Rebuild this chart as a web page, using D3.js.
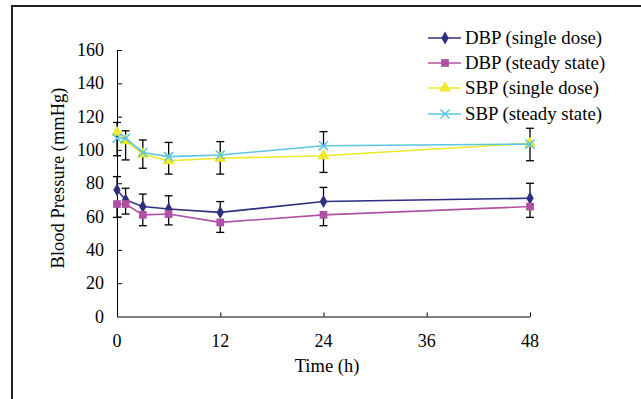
<!DOCTYPE html>
<html>
<head>
<meta charset="utf-8">
<script src="https://cdn.jsdelivr.net/npm/d3@7"></script>
<style>
  body { margin: 0; background: #fff; }
  svg { display: block; font-family: "Liberation Serif", "Times New Roman", serif; }
</style>
</head>
<body>
<svg width="641" height="399"></svg>
<script>
// data
var times = [0, 1, 3, 6, 12, 24, 48];
var dbpSingle = [76, 70, 66, 64.5, 62.5, 69, 71];
var dbpSteady = [67.5, 67.5, 61, 61.5, 56.5, 61, 66];
var sbpSingle = [110.5, 105.5, 97.5, 93.5, 95, 96.5, 104];
var sbpSteady = [107, 107, 98.5, 96, 97, 102.5, 103.5];
// error bars (only one side of each is visible)
var dbpSingleErr = [8, 7, 7.5, 8, 6.5, 8.5, 9];
var dbpSteadyErr = [8, 6, 6.5, 6.5, 6, 6.5, 6.5];
var sbpSingleErr = [14, 11.5, 8.5, 8, 9.5, 10, 10.5];
var sbpSteadyErr = [9.5, 4.5, 7.5, 8.5, 8, 8.5, 9.5];
var seriesNames = ["DBP (single dose)", "DBP (steady state)", "SBP (single dose)", "SBP (steady state)"];
var xTicks = [0, 12, 24, 36, 48];
var yTicks = [0, 20, 40, 60, 80, 100, 120, 140, 160];

var series = [
  {name: seriesNames[0], values: dbpSingle, err: dbpSingleErr, side: 1, color: "#2e2f7f", symbol: d3.symbolDiamond, size: 48},
  {name: seriesNames[1], values: dbpSteady, err: dbpSteadyErr, side: -1, color: "#b052a3", symbol: d3.symbolSquare, size: 60},
  {name: seriesNames[2], values: sbpSingle, err: sbpSingleErr, side: -1, color: "#eee82a", symbol: d3.symbolTriangle, size: 60},
  {name: seriesNames[3], values: sbpSteady, err: sbpSteadyErr, side: 1, color: "#5cc6e0", symbol: "x", size: 0}
];

var svg = d3.select("svg");

// outer frame (runs off the right and bottom)
svg.append("path")
  .attr("d", "M12,400 L12,6 L645,6")
  .attr("fill", "none")
  .attr("stroke", "#231f20")
  .attr("stroke-width", 2);

var x = d3.scaleLinear().domain([0, 48]).range([117, 530]);
var y = d3.scaleLinear().domain([0, 160]).range([316.5, 50]);

// y axis, ticks pointing inward
var yAxis = svg.append("g")
  .attr("transform", "translate(117,0)")
  .call(d3.axisRight(y).tickValues(yTicks).tickSize(5).tickSizeOuter(0).tickFormat(""));
yAxis.select(".domain").attr("stroke", "#000");
yAxis.selectAll("line").attr("stroke", "#000");

svg.selectAll(".ylab")
  .data(yTicks)
  .enter()
  .append("text")
  .attr("class", "ylab")
  .attr("x", 104)
  .attr("y", function(d) { return y(d) + 6; })
  .attr("text-anchor", "end")
  .attr("font-size", 18)
  .text(function(d) { return d; });

// x axis, grey line with small upward ticks
var xAxis = svg.append("g")
  .attr("transform", "translate(0," + y(0) + ")")
  .call(d3.axisTop(x).tickValues(xTicks).tickSize(4).tickSizeOuter(0).tickFormat(""));
xAxis.select(".domain").attr("stroke", "#808080").attr("stroke-width", 2);
xAxis.selectAll("line").attr("stroke", "#000");

svg.selectAll(".xlab")
  .data(xTicks)
  .enter()
  .append("text")
  .attr("class", "xlab")
  .attr("x", function(d) { return x(d); })
  .attr("y", 347)
  .attr("text-anchor", "middle")
  .attr("font-size", 18)
  .text(function(d) { return d; });

svg.append("text")
  .attr("x", 327)
  .attr("y", 372)
  .attr("text-anchor", "middle")
  .attr("font-size", 18.5)
  .text("Time (h)");

svg.append("text")
  .attr("transform", "translate(64,178) rotate(-90)")
  .attr("text-anchor", "middle")
  .attr("font-size", 18.5)
  .text("Blood Pressure (mmHg)");

// error bars
series.forEach(function(s) {
  var g = svg.append("g");
  s.values.forEach(function(v, i) {
    var cx = x(times[i]);
    var end = y(v + s.side * s.err[i]);
    g.append("line")
      .attr("x1", cx).attr("x2", cx)
      .attr("y1", y(v)).attr("y2", end)
      .attr("stroke", "#000").attr("stroke-width", 1.3);
    g.append("line")
      .attr("x1", cx - 4).attr("x2", cx + 4)
      .attr("y1", end).attr("y2", end)
      .attr("stroke", "#000").attr("stroke-width", 1.3);
  });
});

var line = d3.line()
  .x(function(d) { return x(d.t); })
  .y(function(d) { return y(d.v); });

function drawMarker(g, s, cx, cy) {
  if (s.symbol === "x") {
    g.append("path")
      .attr("d", "M" + (cx - 4.5) + "," + (cy - 4.5) + "L" + (cx + 4.5) + "," + (cy + 4.5) +
                 "M" + (cx - 4.5) + "," + (cy + 4.5) + "L" + (cx + 4.5) + "," + (cy - 4.5))
      .attr("stroke", s.color)
      .attr("stroke-width", 1.5)
      .attr("fill", "none");
  } else {
    g.append("path")
      .attr("d", d3.symbol().type(s.symbol).size(s.size)())
      .attr("transform", "translate(" + cx + "," + cy + ")")
      .attr("fill", s.color);
  }
}

series.forEach(function(s) {
  var pts = s.values.map(function(v, i) { return {t: times[i], v: v}; });
  svg.append("path")
    .datum(pts)
    .attr("d", line)
    .attr("fill", "none")
    .attr("stroke", s.color)
    .attr("stroke-width", 1.6);
  var g = svg.append("g");
  pts.forEach(function(p) {
    drawMarker(g, s, x(p.t), y(p.v));
  });
});

// legend
var legendY = [38, 63, 88, 114];
series.forEach(function(s, i) {
  var g = svg.append("g");
  g.append("line")
    .attr("x1", 428).attr("x2", 461)
    .attr("y1", legendY[i]).attr("y2", legendY[i])
    .attr("stroke", s.color)
    .attr("stroke-width", 1.6);
  drawMarker(g, s, 445, legendY[i]);
  g.append("text")
    .attr("x", 465)
    .attr("y", legendY[i] + 6)
    .attr("font-size", 18.8)
    .text(s.name);
});
</script>
</body>
</html>
